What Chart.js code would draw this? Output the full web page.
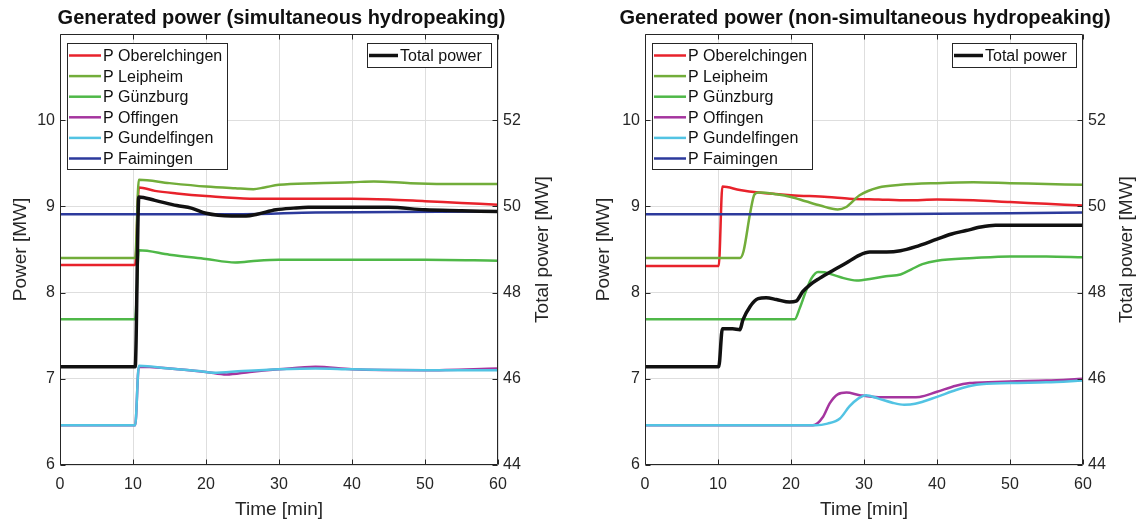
<!DOCTYPE html>
<html lang="en">
<head>
<meta charset="UTF-8">
<title>Generated power - hydropeaking</title>
<style>
  body { margin: 0; background: #fff; }
  .wrap { position: relative; width: 1142px; height: 525px; }
  .wrap canvas { position: absolute; top: 0; }
  #chartSim { left: 0; }
  #chartNon { left: 571px; }
</style>
</head>
<body>
<div class="wrap">
  <canvas id="chartSim" width="571" height="525"></canvas>
  <canvas id="chartNon" width="571" height="525"></canvas>
</div>

<script src="https://cdn.jsdelivr.net/npm/chart.js"></script>
<script>
// names shown in the legends
const plantNames = ['P Oberelchingen', 'P Leipheim', 'P Günzburg', 'P Offingen', 'P Gundelfingen', 'P Faimingen'];
const totalLabel = 'Total power';
const rightAxisTitle = 'Total power [MW]';
const xTicks = [0, 10, 20, 30, 40, 50, 60];

// ---- simultaneous hydropeaking (left plot), time in min, power in MW ----
const simOberT = [0, 10.3, 10.8, 13, 16, 20, 26, 30, 35, 40, 45, 50, 55, 60];
const simOberP = [8.32, 8.32, 9.22, 9.18, 9.15, 9.12, 9.09, 9.09, 9.09, 9.09, 9.08, 9.06, 9.04, 9.02];
const simLeipT = [0, 10.3, 10.8, 15, 20, 24, 26.5, 28, 30, 35, 40, 43, 48, 55, 60];
const simLeipP = [8.40, 8.40, 9.31, 9.27, 9.23, 9.21, 9.20, 9.22, 9.25, 9.27, 9.28, 9.29, 9.27, 9.26, 9.26];
const simGuenT = [0, 10.3, 10.8, 15, 20, 24, 27, 30, 40, 50, 60];
const simGuenP = [7.69, 7.69, 8.49, 8.44, 8.39, 8.35, 8.37, 8.38, 8.38, 8.38, 8.37];
const simOffT = [0, 10.3, 10.8, 15, 20, 22.8, 26, 30, 35, 40, 50, 60];
const simOffP = [6.46, 6.46, 7.14, 7.12, 7.08, 7.05, 7.08, 7.11, 7.14, 7.11, 7.10, 7.12];
const simGundT = [0, 10.3, 10.8, 15, 19, 21, 25, 30, 35, 40, 50, 60];
const simGundP = [6.46, 6.46, 7.15, 7.12, 7.09, 7.07, 7.09, 7.11, 7.12, 7.11, 7.10, 7.10];
const simFaimT = [0, 25, 35, 60];
const simFaimP = [8.91, 8.91, 8.93, 8.94];
const simTotalT = [0, 10.3, 10.8, 13, 16, 18, 20, 23.5, 25.5, 27, 29.6, 32, 34, 40, 45, 50, 55, 60];
const simTotalP = [46.28, 46.28, 50.22, 50.14, 50.02, 49.96, 49.84, 49.78, 49.78, 49.82, 49.92, 49.96, 49.98, 49.98, 49.98, 49.92, 49.90, 49.88];

// ---- non-simultaneous hydropeaking (right plot) ----
const nonOberT = [0, 10.1, 10.6, 13, 15.6, 20, 25, 28, 32, 36, 40, 45, 50, 55, 60];
const nonOberP = [8.31, 8.31, 9.23, 9.19, 9.16, 9.13, 9.11, 9.09, 9.08, 9.07, 9.08, 9.07, 9.05, 9.03, 9.01];
const nonLeipT = [0, 13.0, 13.5, 14.4, 15.0, 15.6, 18, 20, 22, 24, 26.4, 27.5, 29.4, 32, 35, 40, 45, 50, 55, 60];
const nonLeipP = [8.40, 8.40, 8.48, 8.92, 9.14, 9.16, 9.14, 9.11, 9.06, 9.01, 8.965, 8.99, 9.13, 9.22, 9.25, 9.27, 9.28, 9.27, 9.26, 9.25];
const nonGuenT = [0, 20.5, 21.2, 22.1, 22.8, 23.7, 24.6, 26.7, 29, 31, 33, 35, 36.5, 38, 40, 45, 50, 55, 60];
const nonGuenP = [7.69, 7.69, 7.82, 8.03, 8.165, 8.24, 8.235, 8.18, 8.14, 8.16, 8.19, 8.21, 8.27, 8.33, 8.37, 8.40, 8.42, 8.42, 8.41];
const nonOffT = [0, 23.0, 24.4, 25.3, 26.4, 27.6, 29.4, 32, 35, 37.6, 40, 42.6, 44.5, 47, 50, 55, 60];
const nonOffP = [6.46, 6.46, 6.56, 6.715, 6.82, 6.84, 6.81, 6.785, 6.785, 6.79, 6.85, 6.92, 6.95, 6.96, 6.97, 6.98, 7.00];
const nonGundT = [0, 23.4, 25, 26.7, 28, 29.2, 30.3, 32, 34, 35.5, 37, 40, 42.6, 45.4, 50, 55, 60];
const nonGundP = [6.46, 6.46, 6.48, 6.54, 6.68, 6.77, 6.81, 6.77, 6.72, 6.70, 6.71, 6.79, 6.87, 6.93, 6.95, 6.96, 6.98];
const nonFaimT = [0, 30, 60];
const nonFaimP = [8.91, 8.91, 8.93];
const nonTotalT = [0, 10.1, 10.6, 12, 13.0, 13.4, 14.4, 15.5, 16.6, 18, 19.8, 20.7, 21.6, 22.6, 23.9, 25.8, 27.5, 29.4, 30.8, 33.1, 35, 37, 40, 42, 44, 46, 48, 50, 55, 60];
const nonTotalP = [46.28, 46.28, 47.16, 47.16, 47.14, 47.36, 47.68, 47.86, 47.88, 47.84, 47.78, 47.80, 48.02, 48.18, 48.33, 48.52, 48.68, 48.87, 48.94, 48.94, 48.97, 49.06, 49.24, 49.36, 49.44, 49.52, 49.56, 49.56, 49.56, 49.56];

const plantColors = ['#e8222b', '#72ad3a', '#4fb848', '#a5359f', '#52c3e3', '#2c3a9c'];
const fontFam = '"Liberation Sans", Arial, Helvetica, sans-serif';
const axisColor = '#262626';

Chart.defaults.font.family = fontFam;
Chart.defaults.color = axisColor;

function pts(t, p) {
    return t.map((x, i) => ({ x: x, y: p[i] }));
}

function buildDatasets(series, totT, totP) {
    const sets = series.map((s, i) => ({
        label: plantNames[i],
        data: pts(s[0], s[1]),
        yAxisID: 'y',
        borderColor: plantColors[i],
        borderWidth: 2.5,
        order: 6 - i
    }));
    sets.push({
        label: totalLabel,
        data: pts(totT, totP),
        yAxisID: 'y1',
        borderColor: '#111111',
        borderWidth: 3.5,
        order: 0
    });
    return sets;
}

// box around the axes with small inward ticks on all sides (matlab style)
// plus the right axis title, which reads bottom-to-top like the left one
const frame = {
    id: 'frame',
    afterDatasetsDraw(chart) {
        const { ctx, chartArea: a, scales } = chart;
        ctx.save();
        ctx.strokeStyle = axisColor;
        ctx.lineWidth = 1;
        const L = Math.round(a.left) + 0.5, R = Math.round(a.right) - 0.5;
        const T = Math.round(a.top) + 0.5, B = Math.round(a.bottom) - 0.5;
        ctx.beginPath();
        ctx.rect(L, T, R - L, B - T);
        scales.x.ticks.forEach(t => {
            const x = Math.round(scales.x.getPixelForValue(t.value)) + 0.5;
            ctx.moveTo(x, B); ctx.lineTo(x, B - 5);
            ctx.moveTo(x, T); ctx.lineTo(x, T + 5);
        });
        scales.y.ticks.forEach(t => {
            const y = Math.round(scales.y.getPixelForValue(t.value)) + 0.5;
            ctx.moveTo(L, y); ctx.lineTo(L + 5, y);
        });
        scales.y1.ticks.forEach(t => {
            const y = Math.round(scales.y1.getPixelForValue(t.value)) + 0.5;
            ctx.moveTo(R, y); ctx.lineTo(R - 5, y);
        });
        ctx.stroke();

        ctx.translate(scales.y1.right - 11.4, (a.top + a.bottom) / 2);
        ctx.rotate(-Math.PI / 2);
        ctx.font = '19px ' + fontFam;
        ctx.fillStyle = axisColor;
        ctx.textAlign = 'center';
        ctx.textBaseline = 'middle';
        ctx.fillText(rightAxisTitle, 0, 0);
        ctx.restore();
    }
};

// two legend boxes inside the axes: plants top-left, total top-right
const boxLegend = {
    id: 'boxLegend',
    afterDatasetsDraw(chart) {
        const { ctx, chartArea: a } = chart;
        const leftSets = chart.data.datasets.filter(d => d.yAxisID === 'y');
        const rightSets = chart.data.datasets.filter(d => d.yAxisID === 'y1');
        ctx.save();
        ctx.font = '16px ' + fontFam;
        ctx.textBaseline = 'middle';

        function drawBox(x, y, w, h, sets, lineLen) {
            ctx.fillStyle = '#ffffff';
            ctx.fillRect(x, y, w, h);
            ctx.strokeStyle = axisColor;
            ctx.lineWidth = 1;
            ctx.strokeRect(Math.round(x) + 0.5, Math.round(y) + 0.5, Math.round(w), Math.round(h));
            sets.forEach((d, i) => {
                const ry = y + 12.5 + i * 20.6;
                ctx.strokeStyle = d.borderColor;
                ctx.lineWidth = d.borderWidth;
                ctx.beginPath();
                ctx.moveTo(x + 2, ry);
                ctx.lineTo(x + 2 + lineLen, ry);
                ctx.stroke();
                ctx.fillStyle = '#111111';
                ctx.fillText(d.label, x + lineLen + 4, ry + 1);
            });
        }

        drawBox(a.left + 7, a.top + 9, 160, 126, leftSets, 32);
        drawBox(a.right - 7 - 124, a.top + 9, 124, 24, rightSets, 29);
        ctx.restore();
    }
};

function makeChart(id, title, datasets, pad) {
    return new Chart(document.getElementById(id), {
        type: 'line',
        data: { datasets: datasets },
        options: {
            responsive: false,
            animation: false,
            devicePixelRatio: 1,
            layout: { padding: { left: pad.left, right: pad.right, top: 0, bottom: 4 } },
            elements: {
                point: { radius: 0 },
                line: { cubicInterpolationMode: 'monotone', fill: false }
            },
            plugins: {
                legend: { display: false },
                tooltip: { enabled: false },
                title: {
                    display: true,
                    text: title,
                    color: '#111111',
                    font: { size: 20, weight: 'bold' },
                    padding: { top: 6, bottom: 4 }
                }
            },
            scales: {
                x: {
                    type: 'linear',
                    min: 0,
                    max: 60,
                    afterBuildTicks: s => { s.ticks = xTicks.map(v => ({ value: v })); },
                    ticks: { padding: 10, font: { size: 16 }, color: axisColor },
                    grid: { color: '#dedede', drawTicks: false },
                    border: { display: false },
                    title: { display: true, text: 'Time [min]', font: { size: 19 }, padding: 0, color: axisColor },
                    afterFit: s => { s.height = 56; }
                },
                y: {
                    position: 'left',
                    min: 6,
                    max: 11,
                    ticks: { stepSize: 1, padding: 5, font: { size: 16 }, color: axisColor },
                    afterBuildTicks: s => { s.ticks = s.ticks.filter(t => t.value <= 10); },
                    grid: { color: '#dedede', drawTicks: false },
                    border: { display: false },
                    title: { display: true, text: 'Power [MW]', font: { size: 19 }, padding: 0, color: axisColor },
                    afterFit: s => { s.width = pad.yw; }
                },
                y1: {
                    position: 'right',
                    min: 44,
                    max: 54,
                    ticks: { stepSize: 2, padding: 5, font: { size: 16 }, color: axisColor },
                    afterBuildTicks: s => { s.ticks = s.ticks.filter(t => t.value <= 52); },
                    grid: { display: false, drawTicks: false },
                    border: { display: false },
                    title: { display: false },
                    afterFit: s => { s.width = pad.y1w; }
                }
            }
        },
        plugins: [frame, boxLegend]
    });
}

makeChart('chartSim', 'Generated power (simultaneous hydropeaking)',
    buildDatasets([
        [simOberT, simOberP], [simLeipT, simLeipP], [simGuenT, simGuenP],
        [simOffT, simOffP], [simGundT, simGundP], [simFaimT, simFaimP]
    ], simTotalT, simTotalP),
    { left: 9, right: 17, yw: 51, y1w: 56 });

makeChart('chartNon', 'Generated power (non-simultaneous hydropeaking)',
    buildDatasets([
        [nonOberT, nonOberP], [nonLeipT, nonLeipP], [nonGuenT, nonGuenP],
        [nonOffT, nonOffP], [nonGundT, nonGundP], [nonFaimT, nonFaimP]
    ], nonTotalT, nonTotalP),
    { left: 21, right: 4, yw: 53, y1w: 55 });
</script>
</body>
</html>
